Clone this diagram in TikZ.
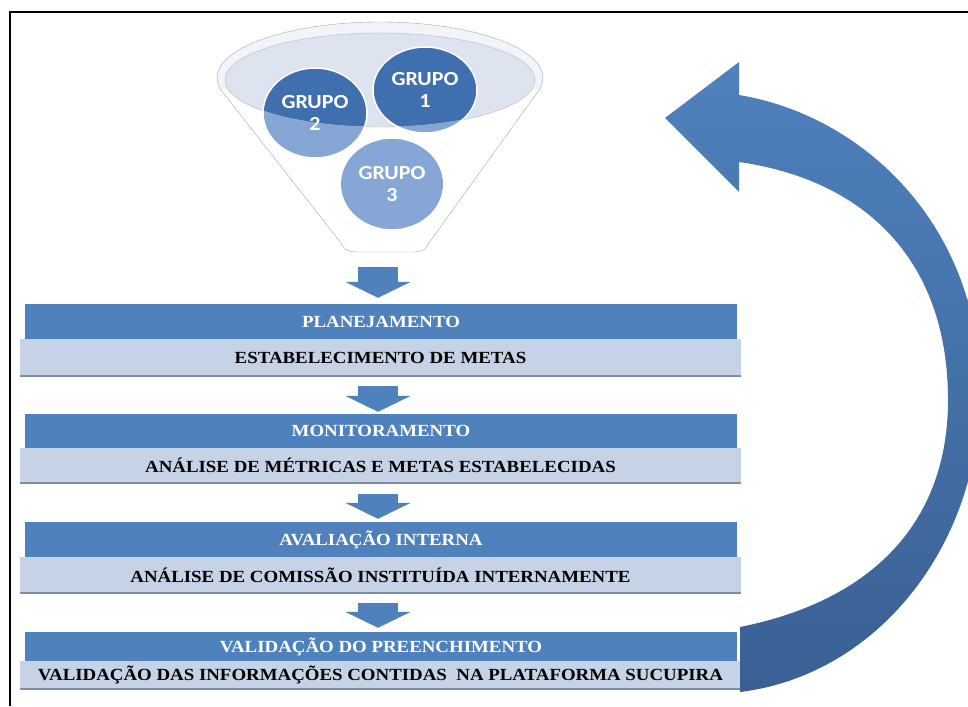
\documentclass[tikz,border=0pt]{standalone}
\usepackage{fontspec}
\setmainfont{Liberation Serif}
\newfontfamily\grupofont{Carlito}[FakeStretch=1.1]
\newfontfamily\barfont{Liberation Serif}[FakeStretch=1.11]
\usetikzlibrary{arrows.meta}
\usetikzlibrary{calc}
\usetikzlibrary{shapes.geometric}
\definecolor{barblue}{RGB}{79,129,189}
\definecolor{barlight}{RGB}{198,210,229}
\definecolor{barshadow}{RGB}{125,140,165}
\definecolor{grpdark}{RGB}{63,111,175}
\definecolor{grplight}{RGB}{134,167,214}
\definecolor{rimfill}{RGB}{221,228,239}
\definecolor{loopdark}{RGB}{58,96,148}
\definecolor{funnelline}{RGB}{165,168,175}

\begin{document}
\begin{tikzpicture}[x=1pt,y=-1pt,
    headbar/.style = {fill=barblue, minimum width=712pt, inner sep=0pt, text=white,
        font=\barfont\bfseries\fontsize{17}{17}\selectfont},
    subbar/.style = {fill=barlight, minimum width=721pt, inner sep=0pt,
        font=\barfont\bfseries\fontsize{17}{17}\selectfont,
        path picture={\draw[barshadow, line width=2pt] (path picture bounding box.south west) -- (path picture bounding box.south east);}},
    grupo/.style = {ellipse, minimum width=104pt, minimum height=88pt, draw=white, line width=1.5pt,
        text=white, align=center, font=\grupofont\bfseries\fontsize{20}{22}\selectfont},
    flowarrow/.style = {draw=barblue, line width=40pt, -{Triangle[length=16pt,width=65pt]}}]
\useasboundingbox (0,0) rectangle (968,706);
\draw[line width=2pt] (10,706) -- (10,12) -- (968,12);

% funnel
\fill[rimfill!40] (380,78) ellipse [x radius=163, y radius=56];
\draw[funnelline, fill=white] (221,90) -- (341,243) .. controls (346,251) .. (356,252) -- (414,252) .. controls (424,251) .. (429,243) -- (539,90);
\begin{scope}
    \clip (0,0) rectangle (968,90);
    \draw[funnelline] (380,78) ellipse [x radius=163, y radius=56];
\end{scope}
\fill[rimfill] (380,80) ellipse [x radius=155, y radius=47];
\coordinate (fbot) at (378,252);

% groups
\fill[grplight] (425,90) ellipse [x radius=52, y radius=43];
\fill[grplight] (315,113) ellipse [x radius=52, y radius=45];
\fill[grplight] (392,184) ellipse [x radius=51, y radius=46];
\begin{scope}
    \clip (380,80) ellipse [x radius=155, y radius=47];
    \fill[grpdark] (425,90) ellipse [x radius=52, y radius=43];
    \fill[grpdark] (315,113) ellipse [x radius=52, y radius=45];
\end{scope}
\draw[funnelline!80] (380,80) ellipse [x radius=155, y radius=47];
\node[grupo, minimum height=86pt] (g1) at (425,90) {GRUPO\\1};
\node[grupo, minimum height=90pt] (g2) at (315,113) {GRUPO\\2};
\node[grupo, minimum width=102pt, minimum height=92pt] (g3) at (392,184) {GRUPO\\3};

% steps
\node[headbar, minimum height=35pt] (plan) at (381,321.5) {PLANEJAMENTO};
\node[subbar, minimum height=37pt] (metas) at (380.5,357.5) {ESTABELECIMENTO DE METAS};
\node[headbar, minimum height=34pt] (monit) at (381,431) {MONITORAMENTO};
\node[subbar, minimum height=35pt] (metric) at (380.5,465.5) {ANÁLISE DE MÉTRICAS E METAS ESTABELECIDAS};
\node[headbar, minimum height=35pt] (aval) at (381,539.5) {AVALIAÇÃO INTERNA};
\node[subbar, minimum height=36pt] (comiss) at (380.5,575) {ANÁLISE DE COMISSÃO INSTITUÍDA INTERNAMENTE};
\node[headbar, minimum height=29pt] (valid) at (381,646.5) {VALIDAÇÃO DO PREENCHIMENTO};
\node[subbar, minimum height=28pt] (sucup) at (380.5,675) {VALIDAÇÃO DAS INFORMAÇÕES CONTIDAS\ \ NA PLATAFORMA SUCUPIRA};

\draw[flowarrow] ($(fbot)+(0,15)$) -- ($(fbot |- plan.north)+(0,-6)$);
\draw[flowarrow] ($(fbot |- metas.south)+(0,10)$) -- ($(fbot |- monit.north)+(0,-2)$);
\draw[flowarrow] ($(fbot |- metric.south)+(0,11)$) -- ($(fbot |- aval.north)+(0,-3)$);
\draw[flowarrow] ($(fbot |- comiss.south)+(0,10)$) -- ($(fbot |- valid.north)+(0,-4)$);

% loop back
\shade[top color=barblue, middle color=barblue!85!loopdark, bottom color=loopdark]
    (665,118) -- (739,62) -- (739,95) .. controls (860,115) and (975,220) .. (980,380)
    .. controls (985,540) and (880,675) .. (740,692) -- (740,627)
    .. controls (875,600) and (948,520) .. (948,400)
    .. controls (948,260) and (865,180) .. (739,162) -- (739,192) -- cycle;
\end{tikzpicture}
\end{document}
